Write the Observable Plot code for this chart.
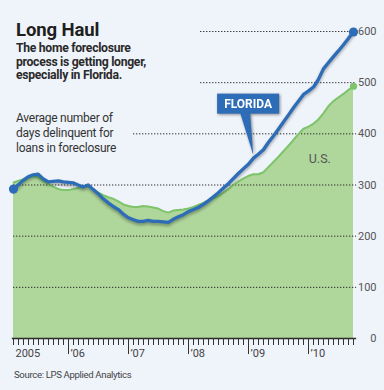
<!DOCTYPE html>
<html>
<head>
<meta charset="utf-8">
<script src="https://cdn.jsdelivr.net/npm/d3@7"></script>
<script src="https://cdn.jsdelivr.net/npm/@observablehq/plot@0.6"></script>
<style>
  html, body { margin: 0; padding: 0; background: #eff3fa; }
  #wrap { position: relative; width: 384px; height: 390px; background: #eff3fa; overflow: hidden;
          font-family: Roboto, "Noto Sans", sans-serif; }
  #chart { position: absolute; left: 0; top: 0; }
  .ov { position: absolute; left: 16px; color: #222; white-space: nowrap; }
  #title { top: 19px; font-size: 18.5px; line-height: 22px; font-weight: bold; color: #1e1e1e; letter-spacing: -0.1px; }
  #subtitle { top: 42px; font-size: 12.2px; font-weight: bold; line-height: 13.7px; color: #2a2a2a; letter-spacing: -0.3px; }
  #note { top: 111px; font-size: 12px; line-height: 15px; color: #333; letter-spacing: -0.25px; }
  #source { top: 368px; left: 14px; font-size: 9.6px; line-height: 13px; color: #444; letter-spacing: -0.35px; }
</style>
</head>
<body>
<div id="wrap">
  <div id="chart"></div>
  <div class="ov" id="title">Long Haul</div>
  <div class="ov" id="subtitle">The home foreclosure<br>process is getting longer,<br>especially in Florida.</div>
  <div class="ov" id="note">Average number of<br>days delinquent for<br>loans in foreclosure</div>
  <div class="ov" id="source">Source: LPS Applied Analytics</div>
</div>
<script>
// ---- data (monthly, Feb 2005 – Oct 2010), average days delinquent ----
const startMonth = "2005-02-01";
const florida = [292,300,309,316,320,321,312,306,307,308,306,305,304,300,296,300,291,283,273,265,
                 258,252,243,236,232,229,229,231,229,229,228,227,233,238,242,248,252,256,262,269,
                 277,285,294,303,313,323,332,341,353,360,369,383,396,409,423,437,451,464,477,484,
                 492,506,527,539,551,562,574,587,599];
const us      = [305,308,311,314,317,315,308,302,297,292,290,290,292,294,296,297,292,285,280,276,
                 273,268,262,259,257,257,259,258,256,254,249,246,250,251,252,254,257,261,265,270,
                 274,278,285,292,300,307,313,318,321,321,325,335,345,355,366,377,388,400,410,414,
                 420,428,440,454,464,471,478,486,493];

// axis / tick definitions
const yTicks = [0, 100, 200, 300, 400, 500, 600];
const gridValues = [100, 200, 300, 400, 500, 600];
const gridFrom = ["2005-02-01","2005-02-01","2005-02-01","2007-02-01","2008-03-15","2008-03-15"];
const gridEnd = "2010-10-20";
const yearTickDates = ["2006-01-01","2007-01-01","2008-01-01","2009-01-01","2010-01-01"];
const yearLabelDates = ["2005-02-01","2006-01-01","2007-01-01","2008-01-01","2009-01-01","2010-01-01"];
const yearLabels = ["2005","\u201906","\u201907","\u201908","\u201909","\u201910"];

// annotations
const calloutText = "FLORIDA";
const calloutDate = "2009-01-01", calloutValue = 458;
const pointerDate = "2009-02-01", pointerValue = 358;
const usLabelText = "U.S.";
const usLabelDate = "2010-03-10", usLabelValue = 351;

// ---- build ----
const months = florida.map((_, i) => d3.utcMonth.offset(new Date(startMonth), i));
const table = months.map((date, i) => ({date, florida: florida[i], us: us[i]}));
const last = table[table.length - 1];
const first = table[0];
const labelMap = new Map(yearLabelDates.map((d, i) => [+new Date(d), yearLabels[i]]));
const yearTicks = yearTickDates.map(d => new Date(d));

const blue = "#2d6cb6";
const greenLine = "#7dc46b";
const greenFill = "#afd69b";
const ink = "#2b2b2b";
const font = "Roboto, 'Noto Sans', sans-serif";

function callout(index, scales) {
  const cx = scales.x(new Date(calloutDate)), cy = scales.y(calloutValue);
  const tx = scales.x(new Date(pointerDate)), ty = scales.y(pointerValue);
  const w = 62, h = 20;
  const g = d3.create("svg:g")
    .style("filter", "drop-shadow(1px 1.5px 1.5px rgba(0,0,0,0.45))");
  g.append("path")
    .attr("d", `M${cx - 8},${cy + h / 2 - 1}L${tx},${ty}L${cx + 2},${cy + h / 2 - 1}Z`)
    .attr("fill", blue);
  g.append("rect")
    .attr("x", cx - w / 2).attr("y", cy - h / 2)
    .attr("width", w).attr("height", h)
    .attr("fill", blue);
  g.append("text")
    .attr("x", cx).attr("y", cy).attr("dy", "0.36em")
    .attr("text-anchor", "middle")
    .attr("fill", "white")
    .attr("font-weight", "bold")
    .attr("font-size", 12)
    .attr("font-family", font)
    .text(calloutText);
  return g.node();
}

// monthly minor ticks and yearly major ticks hanging below the zero baseline (one path each)
function timeTicks(index, scales) {
  const y0 = scales.y(0);
  const g = d3.create("svg:g").attr("fill", "none").attr("stroke", "#333").attr("stroke-width", 1);
  const px = d => Math.round(scales.x(d)) + 0.5;
  g.append("path").attr("d", months.map(d => `M${px(d)},${y0}V${y0 + 7}`).join(""));
  g.append("path").attr("d", yearTicks.map(d => `M${px(d)},${y0}V${y0 + 16}`).join(""));
  return g.node();
}

const plot = Plot.plot({
  width: 384,
  height: 390,
  marginLeft: 13,
  marginRight: 31,
  marginTop: 31,
  marginBottom: 52,
  style: { background: "transparent", fontFamily: font, overflow: "visible" },
  x: { type: "utc", domain: [new Date("2005-02-01"), new Date("2010-10-01")] },
  y: { domain: [0, 600] },
  marks: [
    Plot.areaY(table, { x: "date", y: "us", fill: greenFill }),
    Plot.ruleY(gridValues, {
      y: d => d,
      x1: (d, i) => new Date(gridFrom[i]),
      x2: () => new Date(gridEnd),
      stroke: ink, strokeWidth: 1, strokeDasharray: "1.3,1.7"
    }),
    Plot.lineY(table, { x: "date", y: "us", stroke: greenLine, strokeWidth: 2 }),
    Plot.dot([last], { x: "date", y: "us", r: 3.6, fill: greenLine }),
    Plot.lineY(table, {
      x: "date", y: "florida", stroke: blue, strokeWidth: 3.3,
      strokeLinejoin: "round", strokeLinecap: "round",
      imageFilter: "drop-shadow(0.5px 2px 1.5px rgba(0,0,0,0.35))"
    }),
    Plot.dot([first, last], { x: "date", y: "florida", r: 4.6, fill: blue }),
    Plot.text([usLabelText], {
      x: () => new Date(usLabelDate), y: () => usLabelValue, text: d => d,
      fill: "#555", fontSize: 12.5
    }),
    callout,
    // baseline
    Plot.ruleY([0], { x1: () => new Date("2005-01-25"), x2: () => new Date(gridEnd), stroke: ink, strokeWidth: 1.5 }),
    timeTicks,
    // year labels
    Plot.axisX(yearLabelDates.map(d => new Date(d)), {
      anchor: "bottom", tickSize: 0, tickPadding: 11,
      tickFormat: d => labelMap.get(+d), textAnchor: "start", dx: 2,
      fill: "#444", fontSize: 11
    }),
    // y labels on right
    Plot.axisY(yTicks, {
      anchor: "right", tickSize: 0, tickPadding: 23, textAnchor: "end",
      tickFormat: d => String(d), fill: "#555", fontSize: 11
    })
  ]
});
document.getElementById("chart").appendChild(plot);
</script>
</body>
</html>
